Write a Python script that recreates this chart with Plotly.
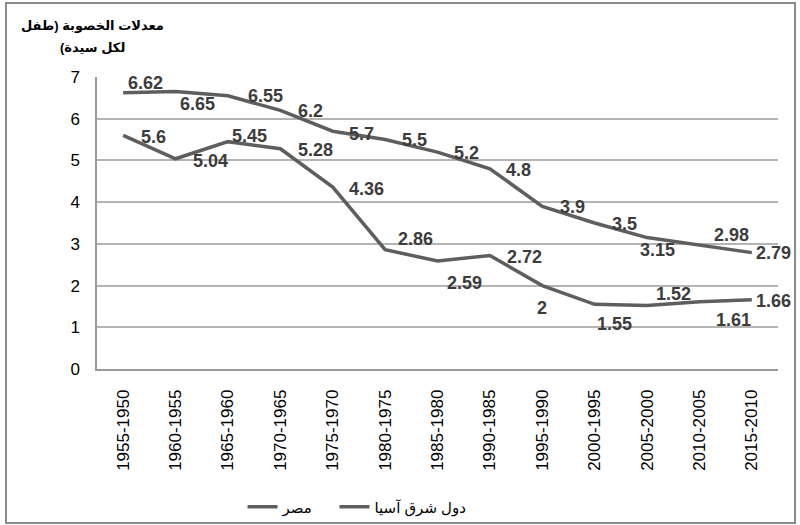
import plotly.graph_objects as go

# ── data ──────────────────────────────────────────────────────────────────────
periods = [
    "1955-1950", "1960-1955", "1965-1960", "1970-1965", "1975-1970",
    "1980-1975", "1985-1980", "1990-1985", "1995-1990", "2000-1995",
    "2005-2000", "2010-2005", "2015-2010",
]
egypt = [6.62, 6.65, 6.55, 6.2, 5.7, 5.5, 5.2, 4.8, 3.9, 3.5, 3.15, 2.98, 2.79]
east_asia = [5.6, 5.04, 5.45, 5.28, 4.36, 2.86, 2.59, 2.72, 2, 1.55, 1.52, 1.61, 1.66]

name_egypt = "مصر"
name_asia = "دول شرق آسيا"
y_title_lines = ["معدلات الخصوبة (طفل", "(لكل سيدة"]

# ── style ─────────────────────────────────────────────────────────────────────
C_LINE = "#5e5e5e"
C_TEXT = "#3c3c3c"
C_GRID = "#b4b4b4"
FONT = "Arial, Liberation Sans, DejaVu Sans, sans-serif"

# label offsets in px (dx, dy; dy positive = down), one per point
off_egypt = [(22, -10), (22, 12), (38, 0), (30, 1), (29, 3), (29, 0), (29, 1),
             (29, 1), (30, 1), (30, 1), (10, 12), (32, -10), (22, 0)]
off_asia = [(30, 2), (35, 2), (22, -6), (35, 1), (34, 2), (30, -11), (27, 22),
            (35, 1), (0, 22), (20, 20), (26, -12), (34, 18), (22, 1)]

fig = go.Figure()
for name, vals, leg in [(name_egypt, egypt, "legend"), (name_asia, east_asia, "legend2")]:
    fig.add_trace(go.Scatter(
        x=periods, y=vals, mode="lines", name=name, legend=leg,
        line=dict(color=C_LINE, width=3.5),
    ))

for vals, offs in [(egypt, off_egypt), (east_asia, off_asia)]:
    for p, v, (dx, dy) in zip(periods, vals, offs):
        fig.add_annotation(
            x=p, y=v, text=f"{v:g}", showarrow=False,
            xshift=dx, yshift=-dy,
            font=dict(family=FONT, size=18, color=C_TEXT, weight="bold"),
        )

# y-axis title, two lines at the top-left
for line, ypos in zip(y_title_lines, [1.178, 1.102]):
    fig.add_annotation(
        xref="paper", yref="paper", x=-0.007, y=ypos,
        xanchor="center", yanchor="middle",
        text=line, showarrow=False,
        font=dict(family=FONT, size=13, color="black", weight="bold"),
    )

# outer frame
fig.add_shape(
    type="rect", xref="paper", yref="paper",
    x0=-0.1336, x1=1.025, y0=-0.527, y1=1.2534,
    line=dict(color="#8a8a8a", width=2), layer="below",
)

leg_style = dict(
    orientation="h", yanchor="middle", xanchor="left", y=-0.473,
    font=dict(size=15, color="black"), bgcolor="rgba(0,0,0,0)",
)
fig.update_layout(
    width=800, height=525,
    margin=dict(l=97, r=22, t=77, b=156, autoexpand=False),
    paper_bgcolor="white", plot_bgcolor="white",
    font=dict(family=FONT, color="black"),
    showlegend=True,
    legend=dict(x=0.2137, **leg_style),
    legend2=dict(x=0.3487, **leg_style),
)
fig.update_xaxes(
    type="category", range=[-0.5, len(periods) - 0.5], tickangle=-90,
    showgrid=False, showline=True, linecolor="#9a9a9a", linewidth=1.5,
    ticks="outside", ticklen=12, tickcolor="rgba(0,0,0,0)",
    tickfont=dict(size=17, color="black"), automargin=False,
)
fig.update_yaxes(
    range=[0, 7], dtick=1, showgrid=True, gridcolor=C_GRID, gridwidth=1.5,
    zeroline=False, showline=True, linecolor="#9a9a9a", linewidth=1.5,
    ticks="outside", ticklen=12, tickcolor="rgba(0,0,0,0)",
    tickfont=dict(size=17, color="black"), automargin=False,
)

fig.write_html(
    "out.html",
    config={"displayModeBar": False},
    post_script="document.body.style.margin='0';",
)
